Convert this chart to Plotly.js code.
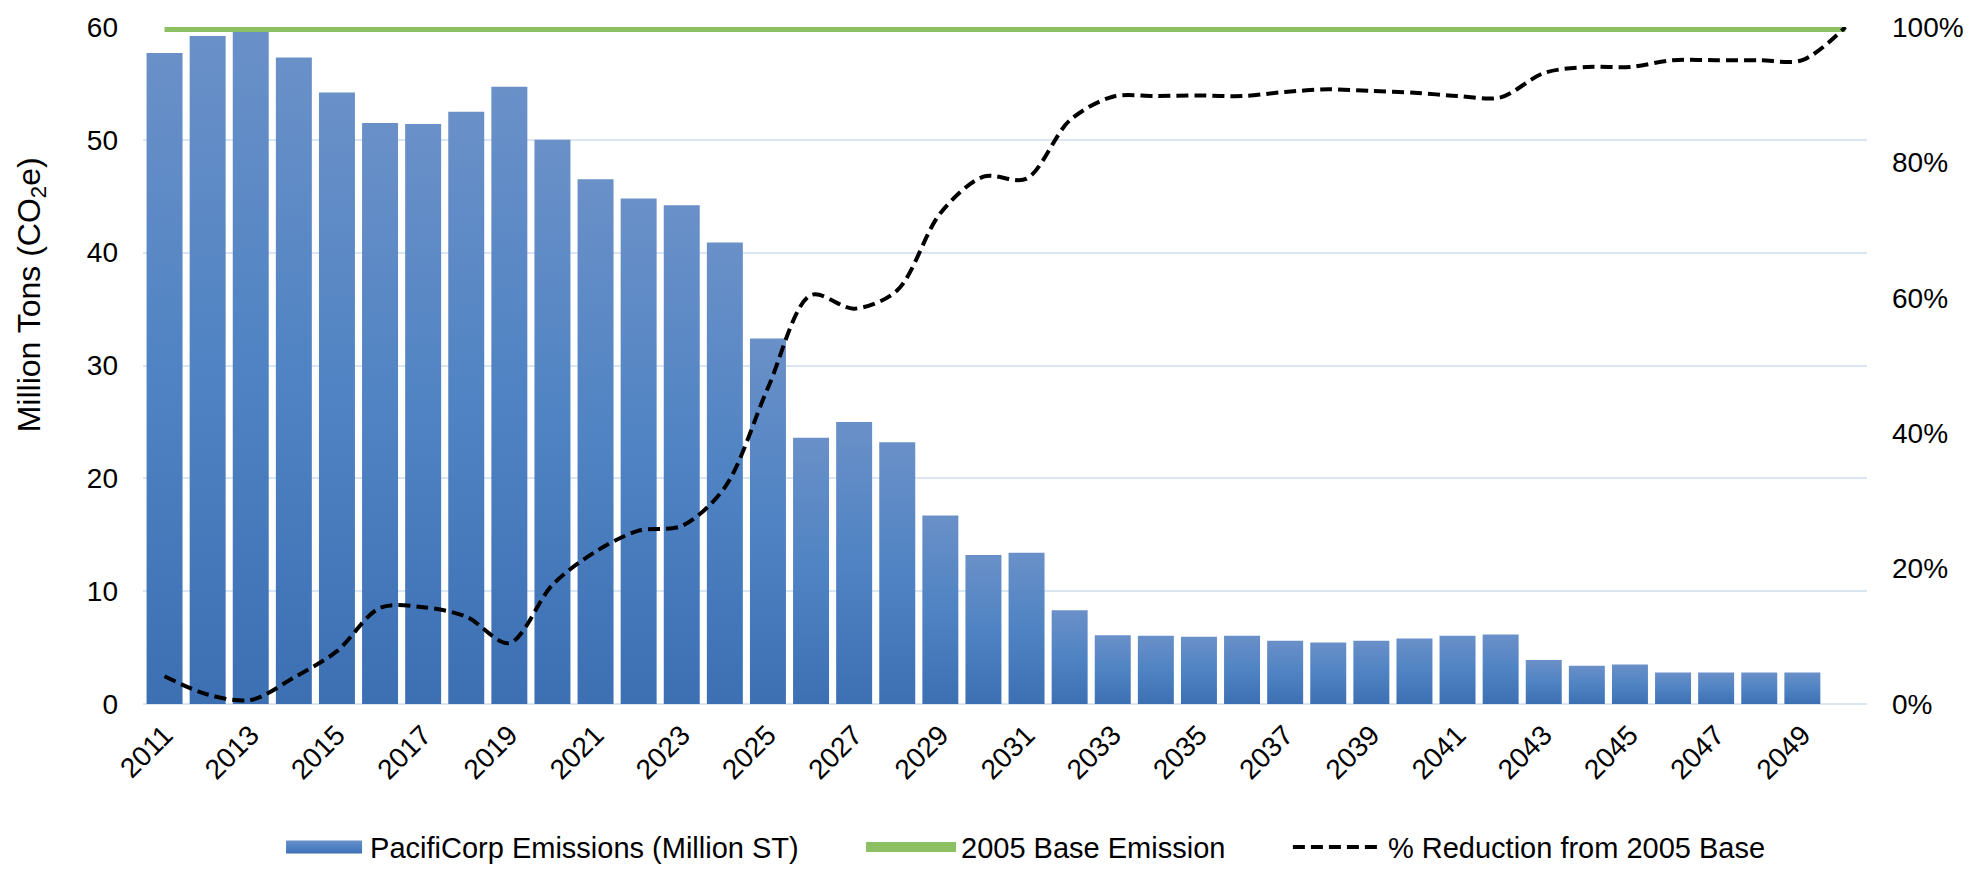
<!DOCTYPE html>
<html>
<head>
<meta charset="utf-8">
<script src="https://cdn.plot.ly/plotly-3.0.1.min.js"></script>
<style>
  html, body { margin: 0; padding: 0; background: #ffffff; }
  #chart { width: 1969px; height: 873px; }
</style>
</head>
<body>
<div id="chart"></div>
<script>
// ---- data ----
const years = ["2011","2012","2013","2014","2015","2016","2017","2018","2019","2020",
               "2021","2022","2023","2024","2025","2026","2027","2028","2029","2030",
               "2031","2032","2033","2034","2035","2036","2037","2038","2039","2040",
               "2041","2042","2043","2044","2045","2046","2047","2048","2049","2050"];

// PacifiCorp Emissions (Million ST)
const emissions = [57.7, 59.2, 59.7, 57.3, 54.2, 51.5, 51.4, 52.5, 54.7, 50.0,
                   46.5, 44.8, 44.2, 40.9, 32.4, 23.6, 25.0, 23.2, 16.7, 13.2,
                   13.4, 8.3, 6.1, 6.05, 5.95, 6.05, 5.6, 5.45, 5.6, 5.8,
                   6.05, 6.15, 3.9, 3.4, 3.5, 2.8, 2.8, 2.8, 2.8, null];

// 2005 Base Emission (Million tons)
const baseEmission = [60, 60, 60, 60, 60, 60, 60, 60, 60, 60,
                      60, 60, 60, 60, 60, 60, 60, 60, 60, 60,
                      60, 60, 60, 60, 60, 60, 60, 60, 60, 60,
                      60, 60, 60, 60, 60, 60, 60, 60, 60, 60];

// % Reduction from 2005 Base (fraction)
const reduction = [0.041, 0.014, 0.006, 0.039, 0.078, 0.142, 0.143, 0.129, 0.090, 0.176,
                   0.225, 0.256, 0.263, 0.320, 0.467, 0.604, 0.584, 0.611, 0.725, 0.779,
                   0.776, 0.862, 0.897, 0.898, 0.899, 0.898, 0.904, 0.908, 0.9055, 0.903,
                   0.898, 0.896, 0.932, 0.941, 0.941, 0.951, 0.951, 0.951, 0.951, 1.000];

// x tick labels shown (every other year)
const tickYears = ["2011","2013","2015","2017","2019","2021","2023","2025","2027","2029",
                   "2031","2033","2035","2037","2039","2041","2043","2045","2047","2049"];

const leftTicks = [0, 10, 20, 30, 40, 50, 60];
const rightTicks = [0, 0.2, 0.4, 0.6, 0.8, 1.0];
const rightTickText = ["0%", "20%", "40%", "60%", "80%", "100%"];

const seriesNames = ["PacifiCorp Emissions (Million ST)", "2005 Base Emission", "% Reduction from 2005 Base"];

// ---- chart ----
const FONT = "Liberation Sans, Arial, Helvetica, sans-serif";
const GRID = "#dce6f2";

const traces = [
  {
    type: "bar",
    x: years,
    y: emissions,
    name: seriesNames[0],
    marker: { color: "#5282c2", line: { width: 0 } },
    yaxis: "y",
    legend: "legend"
  },
  {
    type: "scatter",
    mode: "lines",
    x: years,
    y: baseEmission,
    name: seriesNames[1],
    line: { color: "#8cc063", width: 10 },
    yaxis: "y",
    legend: "legend2"
  },
  {
    type: "scatter",
    mode: "lines",
    x: years,
    y: reduction,
    name: seriesNames[2],
    line: { color: "#000000", width: 4, dash: "12px,6px", shape: "spline", smoothing: 0.9 },
    yaxis: "y2",
    legend: "legend3"
  }
];

function legendAt(xPaper) {
  return {
    orientation: "h",
    x: xPaper,
    xanchor: "left",
    y: -0.249,
    yanchor: "bottom",
    font: { family: FONT, size: 29, color: "#000000" },
    itemwidth: 90,
    borderwidth: 0,
    bgcolor: "rgba(0,0,0,0)"
  };
}

const layout = {
  width: 1969,
  height: 873,
  paper_bgcolor: "#ffffff",
  plot_bgcolor: "#ffffff",
  font: { family: FONT, size: 28, color: "#000000" },
  margin: { l: 143, r: 102, t: 27, b: 169, pad: 0, autoexpand: false },
  bargap: 0.165,
  showlegend: true,
  legend: legendAt(0.0737),
  legend2: legendAt(0.4165),
  legend3: legendAt(0.6641),
  xaxis: {
    type: "category",
    categoryorder: "array",
    categoryarray: years,
    tickmode: "array",
    tickvals: tickYears,
    ticktext: tickYears,
    tickangle: -45,
    ticks: "",
    showgrid: false,
    showline: false,
    zeroline: false,
    automargin: false,
    ticklabelstandoff: 8,
    tickfont: { family: FONT, size: 28, color: "#000000" }
  },
  yaxis: {
    range: [0, 60],
    tickmode: "array",
    tickvals: leftTicks,
    ticks: "",
    showgrid: true,
    gridcolor: GRID,
    gridwidth: 2,
    zeroline: true,
    zerolinecolor: GRID,
    zerolinewidth: 2,
    showline: false,
    automargin: false,
    ticklabelstandoff: 24,
    tickfont: { family: FONT, size: 28, color: "#000000" }
  },
  yaxis2: {
    overlaying: "y",
    side: "right",
    range: [0, 1],
    tickmode: "array",
    tickvals: rightTicks,
    ticktext: rightTickText,
    ticks: "",
    showgrid: false,
    zeroline: false,
    showline: false,
    automargin: false,
    ticklabelstandoff: 24,
    tickfont: { family: FONT, size: 28, color: "#000000" }
  },
  annotations: [
    {
      text: "Million Tons (CO<sub>2</sub>e)",
      xref: "paper", yref: "paper",
      x: -0.065, y: 0.605,
      xanchor: "center", yanchor: "middle",
      textangle: -90,
      showarrow: false,
      font: { family: FONT, size: 32, color: "#000000" }
    }
  ]
};

Plotly.newPlot("chart", traces, layout, { staticPlot: true, displayModeBar: false }).then(function (gd) {
  // per-bar vertical gradient like the original (light at top, darker at bottom)
  const svg = gd.querySelector("svg.main-svg");
  const ns = "http://www.w3.org/2000/svg";
  let defs = svg.querySelector("defs");
  if (!defs) { defs = document.createElementNS(ns, "defs"); svg.insertBefore(defs, svg.firstChild); }
  const grad = document.createElementNS(ns, "linearGradient");
  grad.setAttribute("id", "barGrad");
  grad.setAttribute("x1", "0"); grad.setAttribute("y1", "0");
  grad.setAttribute("x2", "0"); grad.setAttribute("y2", "1");
  [["0%", "#6a90c8"], ["50%", "#4f83c3"], ["100%", "#3c70b3"]].forEach(function (s) {
    const st = document.createElementNS(ns, "stop");
    st.setAttribute("offset", s[0]);
    st.setAttribute("stop-color", s[1]);
    grad.appendChild(st);
  });
  defs.appendChild(grad);
  gd.querySelectorAll(".bars .point path").forEach(function (p) { p.style.fill = "url(#barGrad)"; });

  // wider legend swatches, as in the original
  const legends = gd.querySelectorAll("g.legend");
  legends.forEach(function (lg) {
    const txt = lg.querySelector("text.legendtext");
    if (!txt) return;
    const name = txt.textContent;
    if (name === seriesNames[0]) {
      lg.querySelectorAll(".legendpoints path").forEach(function (p) {
        p.setAttribute("d", "M16,-6.5H92V6.5H16Z");
        p.setAttribute("transform", "");
        p.style.fill = "url(#barGrad)";
      });
    } else if (name === seriesNames[1]) {
      lg.querySelectorAll(".legendlines path").forEach(function (p) {
        p.setAttribute("d", "M12,0H93");
        p.style.strokeWidth = "11px";
        p.style.strokeLinecap = "round";
      });
    } else if (name === seriesNames[2]) {
      lg.querySelectorAll(".legendlines path").forEach(function (p) {
        p.setAttribute("d", "M22,0H94");
        p.style.strokeWidth = "4px";
        p.style.strokeDasharray = "12px,6px";
      });
    }
  });
});
</script>
</body>
</html>
